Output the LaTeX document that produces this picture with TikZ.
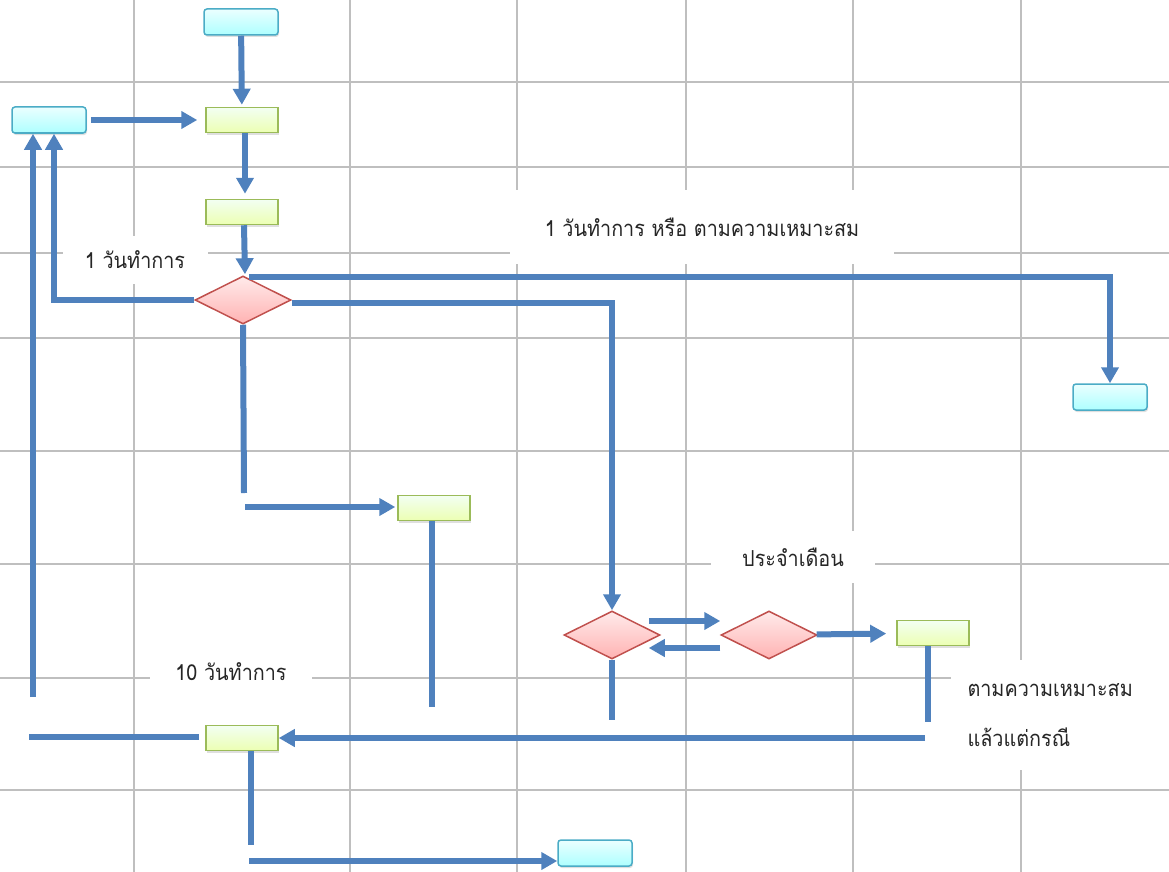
\documentclass[tikz,border=0pt]{standalone}
\usepackage{fontspec}
\usepackage{xcolor}
\usepackage{tikz}
\usetikzlibrary{arrows.meta}
\usetikzlibrary{shapes.geometric}
\usetikzlibrary{shadows}
\usetikzlibrary{calc}
\newfontfamily\thaifont[Script=Thai,FakeStretch=0.9]{Loma}

\definecolor{flowblue}{HTML}{4F81BD}
\definecolor{termline}{HTML}{4BACC6}
\definecolor{procline}{HTML}{9BBB59}
\definecolor{decline}{HTML}{C0504D}
\definecolor{gridgray}{HTML}{BFBFBF}

\tikzset{
	gridline/.style={gridgray,line width=2pt},
	termbox/.style={draw=termline,line width=1.5pt,rounded corners=3pt,
		top color=cyan!8!white,bottom color=cyan!32!white,
		minimum width=74pt,minimum height=26pt,inner sep=0pt,
		drop shadow={shadow xshift=1pt,shadow yshift=-2pt,opacity=.25}},
	procbox/.style={draw=procline,line width=1.5pt,
		top color=green!5!white,bottom color=lime!30!white,
		minimum width=72pt,minimum height=25pt,inner sep=0pt,
		drop shadow={shadow xshift=1pt,shadow yshift=-2pt,opacity=.25}},
	decision/.style={diamond,aspect=2,draw=decline,line width=1.5pt,
		top color=red!8!white,bottom color=red!30!white,
		minimum width=96pt,minimum height=48pt,inner sep=0pt},
	flow/.style={flowblue,line width=6pt},
	arr/.style={flow,-{Triangle[length=16pt,width=17pt]}},
	note/.style={fill=white,font=\thaifont\fontsize{22}{26}\selectfont,text=black!85}
}

\begin{document}
\begin{tikzpicture}[x=1pt,y=-1pt]
	\useasboundingbox (0,0) rectangle (1169,872);
	% grid
	\foreach \x in {134,350,517,686,853,1021}
		\draw[gridline] (\x,0) -- (\x,872);
	\foreach \y in {82,167,253,338,451,564,678,790}
		\draw[gridline] (0,\y) -- (1169,\y);

	% labels
	\node[note,minimum width=145pt,minimum height=48pt] (daya) at (135,260) {1 วันทำการ};
	\node[note,minimum width=384pt,minimum height=74pt] (dayb) at (702,227) {1 วันทำการ หรือ ตามความเหมาะสม};
	\node[note,minimum width=164pt,minimum height=52pt] (month) at (793,557) {ประจำเดือน};
	\node[note,minimum width=162pt,minimum height=48pt] (dayc) at (231,672) {10 วันทำการ};
	\node[note,minimum width=219pt,minimum height=110pt,align=left,text width=185pt] (case) at (1060,715)
		{ตามความเหมาะสม\\[24pt]แล้วแต่กรณี};

	% boxes
	\node[termbox] (t1) at (241,22) {};
	\node[termbox] (t2) at (49,120) {};
	\node[termbox] (t3) at (1110,397) {};
	\node[termbox] (t4) at (595,853) {};
	\node[procbox] (p1) at (242,120) {};
	\node[procbox] (p2) at (242,212) {};
	\node[procbox] (p3) at (434,508) {};
	\node[procbox] (p4) at (933,633) {};
	\node[procbox] (p5) at (242,738) {};
	\node[decision] (d1) at (243,300) {};
	\node[decision] (d2) at (612,635) {};
	\node[decision] (d3) at (769,635) {};

	% loose ends
	\coordinate (c1) at (33,697);
	\coordinate (c2) at (244,493);
	\coordinate (c3) at (245,507);
	\coordinate (c4) at (432,707);
	\coordinate (c5) at (29,737);
	\coordinate (c6) at (612,720);
	\coordinate (c7) at (928,722);
	\coordinate (c8) at (925,738);
	\coordinate (c9) at (251,845);
	\coordinate (c10) at (249,861);

	% connectors
	\draw[arr,shorten >=2pt] (t1) -- (p1);
	\draw[arr,shorten <=4pt,shorten >=8pt] (t2) -- (p1);
	\draw[arr,shorten >=5pt] ([xshift=3pt]p1.south) -- ([xshift=3pt]p2.north);
	\draw[arr,shorten >=1pt] ([xshift=2pt]p2.south) -- ([xshift=2pt]d1.north);
	\draw[arr] ([xshift=6pt,yshift=-2pt]d1.north) -| (t3.north);
	\draw[arr] ([yshift=-3pt]d1.east) -| (d2.north);
	\draw[arr] (d1.west) -| ([xshift=5pt]t2.south);
	\draw[arr] (c1) -- (c1 |- t2.south);
	\draw[flow] (d1.south) -- (c2);
	\draw[arr,shorten >=2pt] (c3) -- (c3 -| p3.west);
	\draw[flow] (c4 |- p3.south) -- (c4);
	\draw[flow,shorten >=6pt] (c5) -- (c5 -| p5.west);
	\draw[arr] ([xshift=-12pt,yshift=14pt]d2.east) -- ([yshift=14pt]d3.west);
	\draw[arr] ([yshift=-13pt]d3.west) -- ([xshift=-12pt,yshift=-13pt]d2.east);
	\draw[arr,shorten >=10pt] (d3) -- (p4);
	\draw[flow] (d2.south) -- (c6);
	\draw[flow] (c7 |- p4.south) -- (c7);
	\draw[arr] (c8) -- (c8 -| p5.east);
	\draw[flow] (c9 |- p5.south) -- (c9);
	\draw[arr] (c10) -- (c10 -| t4.west);
\end{tikzpicture}
\end{document}
